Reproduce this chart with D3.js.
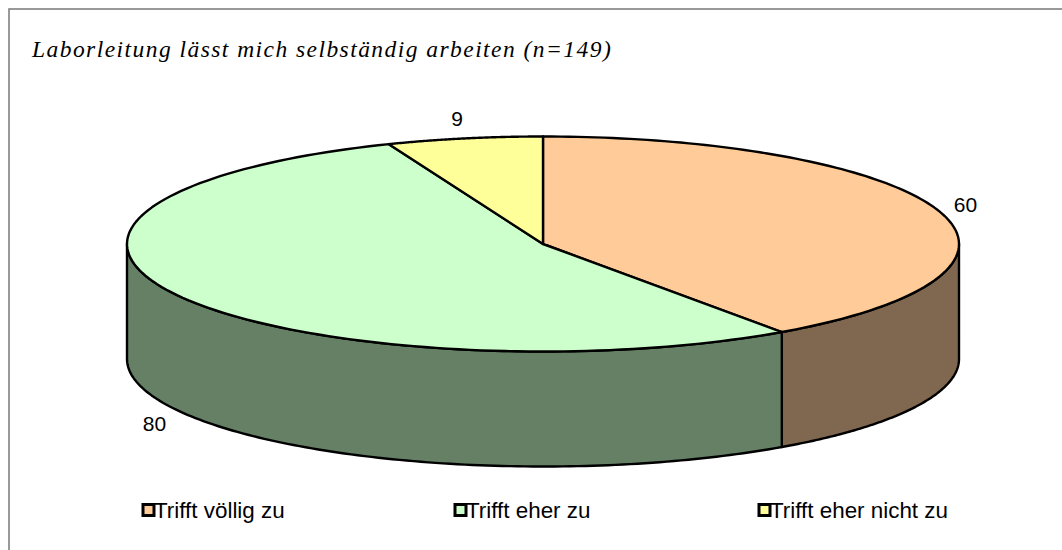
<!DOCTYPE html>
<html><head><meta charset="utf-8">
<script src="https://cdn.jsdelivr.net/npm/d3@7/dist/d3.min.js"></script>
<style>html,body{margin:0;padding:0;background:#fff}svg{display:block}</style>
</head><body><svg id="c" width="1062" height="550"></svg>
<script>
const titleText = "Laborleitung lässt mich selbständig arbeiten (n=149)";
const categories = ["Trifft völlig zu", "Trifft eher zu", "Trifft eher nicht zu"];
const values = [60, 80, 9];
const topColors = ["#FFCC99", "#CCFFCC", "#FFFF99"];
const sideColors = ["#806750", "#668066", "#808050"];

const svg = d3.select("#c");
const cx = 543, cy = 244, rx = 416, ry = 107.5, depth = 115;
const ax = d3.scaleLinear().domain([-1, 1]).range([cx - rx, cx + rx]);
const ay = d3.scaleLinear().domain([-1, 1]).range([cy - ry, cy + ry]);

svg.append("rect").attr("x", 9).attr("y", 9).attr("width", 1060).attr("height", 560)
  .attr("fill", "#fff").attr("stroke", "#808080").attr("stroke-width", 1.6);

svg.append("text").attr("x", 32).attr("y", 57).text(titleText)
  .attr("font-family", "'Liberation Serif'").attr("font-style", "italic")
  .attr("font-size", 23.5).attr("letter-spacing", 1.45).attr("fill", "#000");

const arcs = d3.pie().sort(null).value(d => d)(values);
const px = a => ax(Math.sin(a));
const py = a => ay(-Math.cos(a));
const samples = (a0, a1) => d3.range(0, 121).map(i => a0 + (a1 - a0) * i / 120);
const line = d3.line();

arcs.forEach((d, i) => {
  const a0 = Math.max(d.startAngle, Math.PI / 2), a1 = Math.min(d.endAngle, 3 * Math.PI / 2);
  if (a1 <= a0) return;
  const s = samples(a0, a1);
  const pts = s.map(a => [px(a), py(a)]).concat(s.slice().reverse().map(a => [px(a), py(a) + depth]));
  svg.append("path").attr("d", line(pts) + "Z").attr("fill", sideColors[i])
    .attr("stroke", "#000").attr("stroke-width", 2.4).attr("stroke-linejoin", "round");
});

arcs.forEach((d, i) => {
  const pts = [[ax(0), ay(0)]].concat(samples(d.startAngle, d.endAngle).map(a => [px(a), py(a)]));
  svg.append("path").attr("d", line(pts) + "Z").attr("fill", topColors[i])
    .attr("stroke", "#000").attr("stroke-width", 2.4).attr("stroke-linejoin", "round");
});

const labelFont = "'Liberation Sans'";
const labelPos = [[965.5, 204.5], [154.5, 423], [457, 118]];
values.forEach((v, i) => {
  svg.append("text").attr("x", labelPos[i][0]).attr("y", labelPos[i][1]).text(v)
    .attr("text-anchor", "middle").attr("dominant-baseline", "central")
    .attr("font-family", labelFont).attr("font-size", 21).attr("fill", "#000");
});

const legendX = [143, 455, 759];
categories.forEach((c, i) => {
  svg.append("rect").attr("x", legendX[i]).attr("y", 504.5).attr("width", 11).attr("height", 11)
    .attr("fill", topColors[i]).attr("stroke", "#000").attr("stroke-width", 3);
  svg.append("text").attr("x", legendX[i] + 11).attr("y", 518).text(c)
    .attr("font-family", labelFont).attr("font-size", 22.4).attr("fill", "#000");
});
</script></body></html>
